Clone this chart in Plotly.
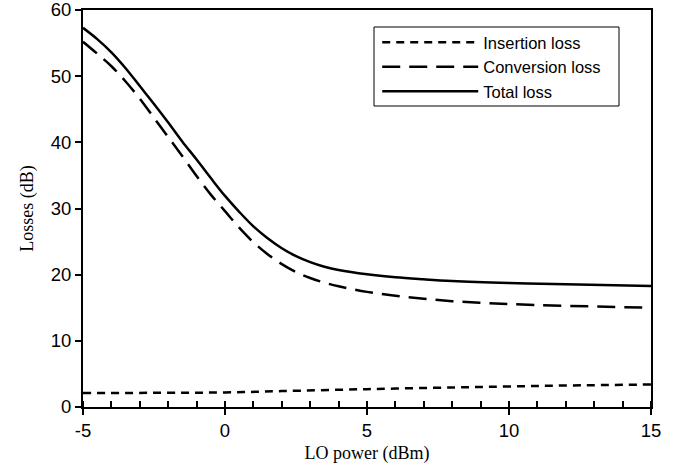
import plotly.graph_objects as go

x_total = [-5, -4.5, -4, -3.5, -3, -2.5, -2, -1.5, -1, -0.5, 0, 0.5, 1, 1.5, 2, 2.5, 3, 3.5, 4, 5, 6, 7, 8, 10, 12, 15]
total_loss = [57.3, 55.6, 53.6, 51.2, 48.5, 45.8, 43.0, 40.1, 37.4, 34.6, 31.9, 29.5, 27.3, 25.5, 24.0, 22.8, 21.9, 21.2, 20.7, 20.05, 19.6, 19.3, 19.05, 18.75, 18.55, 18.3]

x_conv = [-5, -4.5, -4, -3.5, -3, -2.5, -2, -1.5, -1, -0.5, 0, 0.5, 1, 1.5, 2, 2.5, 3, 3.5, 4, 5, 6, 7, 8, 9, 10, 12, 15]
conversion_loss = [55.2, 53.4, 51.5, 49.2, 46.6, 43.7, 40.8, 37.9, 34.9, 32.1, 29.6, 27.1, 24.9, 23.1, 21.6, 20.4, 19.5, 18.8, 18.25, 17.4, 16.8, 16.35, 16.0, 15.75, 15.55, 15.3, 15.0]

x_ins = [-5, -2, 0, 2, 5, 8, 10, 12, 15]
insertion_loss = [2.1, 2.15, 2.2, 2.4, 2.7, 2.95, 3.1, 3.25, 3.4]

x_ticks = [-5, 0, 5, 10, 15]
y_ticks = [0, 10, 20, 30, 40, 50, 60]

fig = go.Figure()
fig.add_trace(go.Scatter(x=x_ins, y=insertion_loss, mode="lines", name="Insertion loss",
                         line=dict(color="black", width=2.5, dash="8px,6px", shape="spline")))
fig.add_trace(go.Scatter(x=x_conv, y=conversion_loss, mode="lines", name="Conversion loss",
                         line=dict(color="black", width=2.5, dash="18px,9px", shape="spline")))
fig.add_trace(go.Scatter(x=x_total, y=total_loss, mode="lines", name="Total loss",
                         line=dict(color="black", width=2.5, shape="spline")))

fig.update_layout(
    width=689, height=472,
    margin=dict(l=83, r=38, t=10, b=65, autoexpand=False),
    paper_bgcolor="white", plot_bgcolor="white",
    font=dict(family="Liberation Sans, Arial", color="black"),
    legend=dict(x=0.518, y=0.962, xanchor="left", yanchor="top",
                borderwidth=0, bgcolor="rgba(0,0,0,0)",
                font=dict(size=16.5, family="Liberation Sans, Arial"),
                itemwidth=96, tracegroupgap=0),
    shapes=[dict(type="rect", xref="paper", yref="paper",
                 x0=(374 - 83) / 568, x1=(619 - 83) / 568,
                 y0=(407 - 106) / 397, y1=(407 - 27) / 397,
                 line=dict(color="black", width=1), fillcolor="rgba(0,0,0,0)", layer="above")],
)
fig.update_xaxes(
    range=[-5, 15], tickvals=x_ticks, ticktext=[str(v) for v in x_ticks],
    showline=True, linecolor="black", linewidth=2, mirror=True,
    ticks="outside", ticklen=6, tickwidth=2, tickcolor="black",
    minor=dict(ticks="inside", dtick=1, ticklen=6, tickwidth=2, tickcolor="black"),
    showgrid=False, zeroline=False, automargin=False, ticklabeloverflow="allow",
    tickfont=dict(size=18.5, family="Liberation Sans, Arial"),
    title=dict(text="LO power (dBm)", font=dict(size=18, family="Liberation Serif, Times New Roman"), standoff=6),
)
fig.update_yaxes(
    range=[0, 60], tickvals=y_ticks, ticktext=[str(v) for v in y_ticks],
    showline=True, linecolor="black", linewidth=2, mirror=True,
    ticks="outside", ticklen=6, tickwidth=2, tickcolor="black",
    showgrid=False, zeroline=False, automargin=False, ticklabeloverflow="allow",
    tickfont=dict(size=18.5, family="Liberation Sans, Arial"),
    title=dict(text="Losses (dB)", font=dict(size=18, family="Liberation Serif, Times New Roman"), standoff=12),
)

fig.write_html("out.html", config={"displayModeBar": False},
               post_script="document.body.style.margin='0';document.body.style.padding='0';")
